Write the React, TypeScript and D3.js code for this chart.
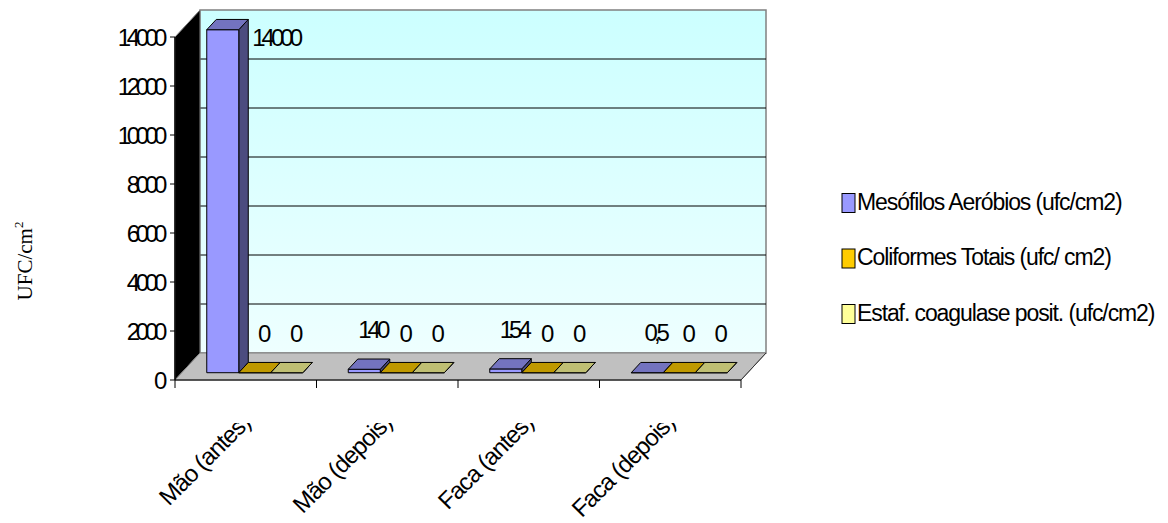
import React from 'react';
import * as d3 from 'd3';

// chart data
const categories = ['Mão (antes)', 'Mão (depois)', 'Faca (antes)', 'Faca (depois)'];
const seriesNames = ['Mesófilos Aeróbios (ufc/cm2)', 'Coliformes Totais (ufc/ cm2)', 'Estaf. coagulase posit. (ufc/cm2)'];
const mesofilos = [14000, 140, 154, 0.5];
const coliformes = [0, 0, 0, 0];
const estafilococos = [0, 0, 0, 0];
const yTicks = [0, 2000, 4000, 6000, 8000, 10000, 12000, 14000];

const allSeries = [mesofilos, coliformes, estafilococos];

// face colours: front, top, side
const frontColors = ['#9999ff', '#ffcc00', '#ffff99'];
const topColors = ['#7373bf', '#bf9900', '#bfbf73'];
const sideColors = ['#4c4c7f', '#7f6600', '#7f7f4c'];

const W = 1168, H = 523;
const left = 175, right = 741, base = 380, top = 37;
const dx = 25, dy = -27;       // depth of the floor
const f0 = 0.27, f1 = 0.65;    // front / back of the bars inside the depth

const fmt = (v: number) => String(v).replace('.', ',');
const font = 'Liberation Sans, Arial, sans-serif';

const App = () => {
    const x = d3.scaleBand().domain(categories).range([left, right]).paddingInner(0).paddingOuter(0);
    const xs = d3.scaleBand().domain(['0', '1', '2']).range([0, x.bandwidth()])
        .paddingInner(0).paddingOuter(0.71).align(0.55);
    const y = d3.scaleLinear().domain([0, 14000]).range([base, top]);
    const yMax = y.domain()[1];

    const bars: any[] = [];
    const labels: any[] = [];
    categories.forEach((c, ci) => {
        allSeries.forEach((vals, si) => {
            const v = vals[ci];
            const x0 = (x(c) as number) + (xs(String(si)) as number);
            const x1 = x0 + xs.bandwidth();
            const yv = y(v);
            const fx = f0 * dx, fy = f0 * dy, bx = f1 * dx, by = f1 * dy;
            const frontFace = [[x0 + fx, yv + fy], [x1 + fx, yv + fy], [x1 + fx, base + fy], [x0 + fx, base + fy]];
            const topFace = [[x0 + fx, yv + fy], [x1 + fx, yv + fy], [x1 + bx, yv + by], [x0 + bx, yv + by]];
            const sideFace = [[x1 + fx, yv + fy], [x1 + bx, yv + by], [x1 + bx, base + by], [x1 + fx, base + fy]];
            bars.push({key: c + si, si, frontFace, topFace, sideFace});

            let lx = x0 + fx + xs.bandwidth() / 2 + 8;
            let ly = yv - 47;
            let anchor = 'middle';
            if (ly - 10 < y(yMax) + dy) {
                // no room above the bar: put it beside
                lx = x1 + bx + 4;
                ly = yv;
                anchor = 'start';
            }
            labels.push({key: c + si, text: fmt(v), lx, ly, anchor});
        });
    });

    const pts = (p: number[][]) => p.map(d => d.join(',')).join(' ');

    return (
        <svg width={W} height={H} style={{position: 'absolute', left: 0, top: 0, background: '#fff'}}>
            <defs>
                <linearGradient id="wall" x1="0" y1="0" x2="0" y2="1">
                    <stop offset="0" stopColor="#ccffff"/>
                    <stop offset="1" stopColor="#eeffff"/>
                </linearGradient>
                <clipPath id="catclip">
                    <rect x={0} y={423} width={W} height={H}/>
                </clipPath>
            </defs>

            {/* back wall */}
            <rect x={left + dx} y={y(yMax) + dy} width={right - left} height={base - y(yMax)}
                  fill="url(#wall)" stroke="#808080" strokeWidth={1.5}/>
            {yTicks.slice(1, -1).map(t => (
                <line key={t} x1={left + dx} x2={right + dx} y1={y(t) + dy} y2={y(t) + dy}
                      stroke="#000" strokeWidth={1}/>
            ))}

            {/* left wall */}
            <polygon points={pts([[left, base], [left, y(yMax)], [left + dx, y(yMax) + dy], [left + dx, base + dy]])}
                     fill="#000" stroke="#808080" strokeWidth={1}/>

            {/* floor */}
            <polygon points={pts([[left, base], [right, base], [right + dx, base + dy], [left + dx, base + dy]])}
                     fill="#c0c0c0" stroke="#808080" strokeWidth={1}/>
            <line x1={right} y1={base} x2={right + dx} y2={base + dy} stroke="#333" strokeWidth={1}/>

            {/* axes */}
            <line x1={left} x2={right} y1={base} y2={base} stroke="#333" strokeWidth={1.5}/>
            <line x1={left} x2={left} y1={y(yMax)} y2={base} stroke="#000" strokeWidth={1.5}/>
            {yTicks.map(t => (
                <g key={t}>
                    <line x1={left - 5} x2={left} y1={y(t)} y2={y(t)} stroke="#000"/>
                    <text x={left - 12} y={y(t)} textAnchor="end" dominantBaseline="central"
                          fontFamily={font} fontSize={24} letterSpacing={-4.3}>{t}</text>
                </g>
            ))}
            {[...categories.map(c => x(c) as number), right].map((t, i) => (
                <line key={i} x1={t} x2={t} y1={base} y2={base + 8} stroke="#000"/>
            ))}

            {/* bars */}
            {bars.map(b => (
                <g key={b.key} stroke="#000" strokeWidth={1} strokeLinejoin="round">
                    <polygon points={pts(b.sideFace)} fill={sideColors[b.si]}/>
                    <polygon points={pts(b.frontFace)} fill={frontColors[b.si]}/>
                    <polygon points={pts(b.topFace)} fill={topColors[b.si]}/>
                </g>
            ))}

            {/* data labels */}
            {labels.map(l => (
                <text key={l.key} x={l.lx} y={l.ly} textAnchor={l.anchor} dominantBaseline="central"
                      fontFamily={font} fontSize={24} letterSpacing={-4}>{l.text}</text>
            ))}

            {/* category labels (clipped at the top like the original) */}
            <g clipPath="url(#catclip)">
                {categories.map(c => {
                    const cx = (x(c) as number) + x.bandwidth() / 2 + 6;
                    return (
                        <text key={c} transform={`translate(${cx},424) rotate(-45)`} textAnchor="end"
                              fontFamily={font} fontSize={24} letterSpacing={-1}>{c}</text>
                    );
                })}
            </g>

            {/* y axis title */}
            <text transform="translate(32,261) rotate(-90)" textAnchor="middle"
                  fontFamily="Liberation Serif, Times New Roman, serif" fontSize={21}>
                UFC/cm<tspan fontSize={13} dy={-9}>2</tspan>
            </text>

            {/* legend */}
            {seriesNames.map((s, i) => {
                const cy = 203 + i * 55.5;
                return (
                    <g key={s}>
                        <rect x={842} y={cy - 9.5} width={13} height={19} fill={frontColors[i]} stroke="#000"/>
                        <text x={857} y={cy + 6.5} fontFamily={font} fontSize={23} letterSpacing={-1.1}>{s}</text>
                    </g>
                );
            })}
        </svg>
    );
};

export default App;
